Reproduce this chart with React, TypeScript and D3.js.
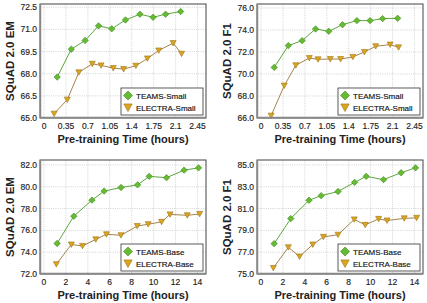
import * as d3 from "d3";

// checkpoints (hours)
const smallTeamsX = [0.21, 0.435, 0.655, 0.87, 1.08, 1.3, 1.53, 1.74, 1.94, 2.18];
const smallElectraX = [0.16, 0.37, 0.555, 0.77, 0.91, 1.105, 1.27, 1.465, 1.65, 1.83, 2.06, 2.195];
const baseTeamsX = [1.2, 2.72, 4.38, 5.49, 7.03, 8.54, 9.6, 11.18, 12.78, 14.1];
const baseElectraX = [1.13, 2.5, 3.52, 4.73, 5.7, 7.03, 8.51, 9.51, 10.73, 11.5, 13.07, 14.2];

const smallTeamsEM = [67.77, 69.66, 70.25, 71.24, 71.04, 71.64, 72.03, 71.82, 72.03, 72.21];
const smallElectraEM = [65.29, 66.24, 68.09, 68.67, 68.56, 68.38, 68.31, 68.54, 69.03, 69.57, 70.07, 69.35];
const smallTeamsF1 = [70.6, 72.58, 73.03, 74.09, 73.88, 74.48, 74.85, 74.85, 75.03, 75.06];
const smallElectraF1 = [66.21, 68.94, 70.79, 71.45, 71.33, 71.36, 71.36, 71.55, 72.0, 72.52, 72.67, 72.42];
const baseTeamsEM = [74.8, 77.3, 78.77, 79.6, 79.93, 80.17, 80.95, 80.83, 81.52, 81.73];
const baseElectraEM = [72.9, 74.7, 74.57, 75.17, 75.64, 75.55, 76.4, 76.56, 76.78, 77.46, 77.38, 77.5];
const baseTeamsF1 = [77.78, 80.08, 81.76, 82.18, 82.56, 83.4, 83.95, 83.65, 84.28, 84.73];
const baseElectraF1 = [75.55, 77.45, 76.6, 77.7, 78.4, 78.6, 80.0, 79.5, 80.05, 79.9, 80.1, 80.15];

const smallXTicks = [0, 0.35, 0.7, 1.05, 1.4, 1.75, 2.1, 2.45];
const baseXTicks = [0, 2, 4, 6, 8, 10, 12, 14];
const tlYTicks = [65.0, 66.5, 68.0, 69.5, 71.0, 72.5];
const trYTicks = [66, 68, 70, 72, 74, 76];
const blYTicks = [72, 74, 76, 78, 80, 82];
const brYTicks = [75, 77, 79, 81, 83, 85];

const FONT = "Liberation Sans, Arial, Helvetica, sans-serif";
const W = 166;
const H = 114;

const green = { fill: "#66bb33", stroke: "#3a8a1a", line: "#5da83c" };
const gold = { fill: "#dba520", stroke: "#9c7312", line: "#a4844c" };

const diamond = (s: number) =>
  `M0,${-s}L${s},0L0,${s}L${-s},0Z`;
const triDown = (s: number) =>
  `M${-s},${-s * 0.85}L${s},${-s * 0.85}L0,${s * 0.95}Z`;

type Props = {
  left: number;
  top: number;
  xDomain: [number, number];
  yDomain: [number, number];
  xTicks: number[];
  yTicks: number[];
  yLabel: string;
  teamsX: number[];
  teamsY: number[];
  electraX: number[];
  electraY: number[];
  names: [string, string];
};

const Panel = ({
  left, top, xDomain, yDomain, xTicks, yTicks, yLabel,
  teamsX, teamsY, electraX, electraY, names,
}: Props) => {
  const x = d3.scaleLinear().domain(xDomain).range([0, W]);
  const y = d3.scaleLinear().domain(yDomain).range([H, 0]);
  const line = d3
    .line<[number, number]>()
    .x((d) => x(d[0]))
    .y((d) => y(d[1]));
  const tPts = teamsX.map((v, i) => [v, teamsY[i]] as [number, number]);
  const ePts = electraX.map((v, i) => [v, electraY[i]] as [number, number]);
  const lw = 82;
  const lh = 27;
  const lx = W - lw - 3;
  const ly = H - lh - 3;

  return (
    <g transform={`translate(${left},${top})`} fontFamily={FONT}>
      <rect width={W} height={H} fill="#fff" />
      <g stroke="#c8c8c8" strokeWidth={0.8} strokeDasharray="1,1.2">
        {xTicks.map((t) => (
          <line key={"gx" + t} x1={x(t)} x2={x(t)} y1={0} y2={H} />
        ))}
        {yTicks.map((t) => (
          <line key={"gy" + t} x1={0} x2={W} y1={y(t)} y2={y(t)} />
        ))}
      </g>
      <path d={line(ePts)!} fill="none" stroke={gold.line} strokeWidth={1} />
      <path d={line(tPts)!} fill="none" stroke={green.line} strokeWidth={1} />
      {ePts.map((d, i) => (
        <path key={"e" + i} transform={`translate(${x(d[0])},${y(d[1])})`}
          d={triDown(3)} fill={gold.fill} stroke={gold.stroke} strokeWidth={0.6} />
      ))}
      {tPts.map((d, i) => (
        <path key={"t" + i} transform={`translate(${x(d[0])},${y(d[1])})`}
          d={diamond(3.2)} fill={green.fill} stroke={green.stroke} strokeWidth={0.6} />
      ))}
      <rect width={W} height={H} fill="none" stroke="#444" strokeWidth={1} />
      <line x1={0.5} x2={0.5} y1={0} y2={H} stroke="#888" strokeWidth={1.5} />
      <line x1={0} x2={W} y1={H - 0.5} y2={H - 0.5} stroke="#888" strokeWidth={1.5} />

      <g transform={`translate(${lx},${ly})`}>
        <rect width={lw} height={lh} fill="#fff" stroke="#333" strokeWidth={0.8} />
        <path transform="translate(7,7.5)" d={diamond(4.5)} fill={green.fill} stroke={green.stroke} strokeWidth={0.6} />
        <path transform="translate(7,19.5)" d={triDown(4.2)} fill={gold.fill} stroke={gold.stroke} strokeWidth={0.6} />
        <text x={15} y={10.5} fontSize={8} fill="#111" stroke="#111" strokeWidth={0.15}>{names[0]}</text>
        <text x={15} y={22.5} fontSize={8} fill="#111" stroke="#111" strokeWidth={0.15}>{names[1]}</text>
      </g>

      {yTicks.map((t) => (
        <text key={"yt" + t} x={-3} y={y(t)} dy="0.35em" textAnchor="end" fontSize={8.5} fill="#222"
          stroke="#222" strokeWidth={0.15}>
          {t.toFixed(1)}
        </text>
      ))}
      {xTicks.map((t) => (
        <text key={"xt" + t} x={x(t)} y={H + 11} textAnchor="middle" fontSize={8.5} fill="#222"
          stroke="#222" strokeWidth={0.15}>
          {String(t)}
        </text>
      ))}
      <text x={W / 2} y={H + 25} textAnchor="middle" fontSize={11} fontWeight="bold" fill="#222">
        Pre-training Time (hours)
      </text>
      <text transform={`translate(-26,${H / 2}) rotate(-90)`} textAnchor="middle" fontSize={11.5}
        fontWeight="bold" fill="#222">
        {yLabel}
      </text>
    </g>
  );
};

const smallX: [number, number] = [-0.065, 2.585];
const baseX: [number, number] = [-0.36, 14.78];

export default function App() {
  return (
    <svg width={427} height={303} style={{ position: "absolute", left: 0, top: 0, background: "#fff" }}>
      <Panel left={40} top={4} xDomain={smallX} yDomain={[65, 72.72]} xTicks={smallXTicks}
        yTicks={tlYTicks} yLabel="SQuAD 2.0 EM"
        teamsX={smallTeamsX} teamsY={smallTeamsEM} electraX={smallElectraX} electraY={smallElectraEM}
        names={["TEAMS-Small", "ELECTRA-Small"]} />
      <Panel left={257} top={4} xDomain={smallX} yDomain={[66, 76.36]} xTicks={smallXTicks}
        yTicks={trYTicks} yLabel="SQuAD 2.0 F1"
        teamsX={smallTeamsX} teamsY={smallTeamsF1} electraX={smallElectraX} electraY={smallElectraF1}
        names={["TEAMS-Small", "ELECTRA-Small"]} />
      <Panel left={40} top={160} xDomain={baseX} yDomain={[72, 82.45]} xTicks={baseXTicks}
        yTicks={blYTicks} yLabel="SQuAD 2.0 EM"
        teamsX={baseTeamsX} teamsY={baseTeamsEM} electraX={baseElectraX} electraY={baseElectraEM}
        names={["TEAMS-Base", "ELECTRA-Base"]} />
      <Panel left={257} top={160} xDomain={baseX} yDomain={[75, 85.45]} xTicks={baseXTicks}
        yTicks={brYTicks} yLabel="SQuAD 2.0 F1"
        teamsX={baseTeamsX} teamsY={baseTeamsF1} electraX={baseElectraX} electraY={baseElectraF1}
        names={["TEAMS-Base", "ELECTRA-Base"]} />
    </svg>
  );
}
